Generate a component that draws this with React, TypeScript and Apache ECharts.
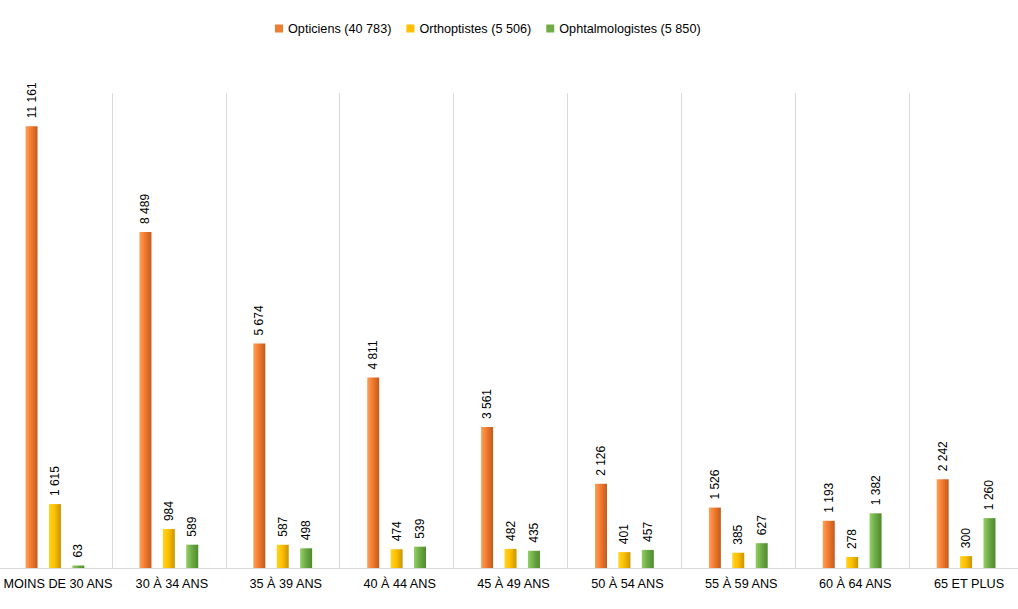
import React, { useEffect, useRef } from "react";
import * as echarts from "echarts";

const categories = [
  "MOINS DE 30 ANS",
  "30 À 34 ANS",
  "35 À 39 ANS",
  "40 À 44 ANS",
  "45 À 49 ANS",
  "50 À 54 ANS",
  "55 À 59 ANS",
  "60 À 64 ANS",
  "65 ET PLUS",
];
const opticiens = [11161, 8489, 5674, 4811, 3561, 2126, 1526, 1193, 2242];
const orthoptistes = [1615, 984, 587, 474, 482, 401, 385, 278, 300];
const ophtalmologistes = [63, 589, 498, 539, 435, 457, 627, 1382, 1260];
const seriesNames = [
  "Opticiens (40 783)",
  "Orthoptistes (5 506)",
  "Ophtalmologistes (5 850)",
];

const fmt = (v: number) => String(v).replace(/\B(?=(\d{3})+(?!\d))/g, " ");

const grad = (light: string, mid: string, dark: string) =>
  new echarts.graphic.LinearGradient(0, 0, 1, 0, [
    { offset: 0, color: light },
    { offset: 0.45, color: mid },
    { offset: 1, color: dark },
  ]);

export default function App() {
  const ref = useRef<HTMLDivElement>(null);
  useEffect(() => {
    document.body.style.margin = "0";
    const chart = echarts.init(ref.current!, null, { renderer: "svg" });
    const font = "'Liberation Sans', Arial, sans-serif";
    const legendColors = ["#ed7d31", "#ffc000", "#70ad47"];
    const mk = (name: string, data: number[], g: any) => ({
      name,
      type: "bar",
      data,
      barWidth: 12,
      barGap: "95%",
      itemStyle: { color: g },
      label: {
        show: true,
        position: "top",
        rotate: 90,
        distance: 8,
        align: "left",
        verticalAlign: "middle",
        color: "#000",
        fontSize: 12,
        fontFamily: font,
        formatter: (p: any) => fmt(p.value),
      },
    });
    chart.setOption({
      animation: false,
      textStyle: { fontFamily: font },
      color: legendColors,
      legend: {
        top: 17,
        left: 272,
        itemWidth: 8,
        itemHeight: 8,
        itemGap: 15,
        icon: "rect",
        textStyle: { color: "#000", fontSize: 12.67, fontFamily: font },
        data: seriesNames.map((n, i) => ({
          name: n,
          itemStyle: { color: legendColors[i] },
        })),
      },
      grid: { left: 0, top: 93, right: 0, bottom: 41, containLabel: false },
      xAxis: {
        type: "category",
        data: categories,
        axisLine: { lineStyle: { color: "#d9d9d9" } },
        axisTick: { show: false },
        axisLabel: {
          color: "#000",
          fontSize: 12.67,
          margin: 9,
          interval: 0,
          fontFamily: font,
          padding: [0, 0, 0, 6],
        },
        splitLine: {
          show: true,
          interval: (i: number) => i !== 0,
          lineStyle: { color: "#d9d9d9" },
        },
      },
      yAxis: {
        type: "value",
        min: 0,
        max: 12000,
        show: false,
        splitLine: { show: false },
      },
      series: [
        mk(seriesNames[0], opticiens, grad("#fba05c", "#f47b2f", "#bf5a1e")),
        mk(seriesNames[1], orthoptistes, grad("#ffd426", "#ffc000", "#c99400")),
        mk(seriesNames[2], ophtalmologistes, grad("#94d067", "#70ad47", "#4c8a2c")),
      ],
    });
    return () => chart.dispose();
  }, []);
  return (
    <div style={{ width: 1018, height: 609, overflow: "hidden", position: "relative" }}>
      <div
        ref={ref}
        style={{ width: 1025, height: 609, position: "absolute", left: -2, top: 0 }}
      />
    </div>
  );
}
